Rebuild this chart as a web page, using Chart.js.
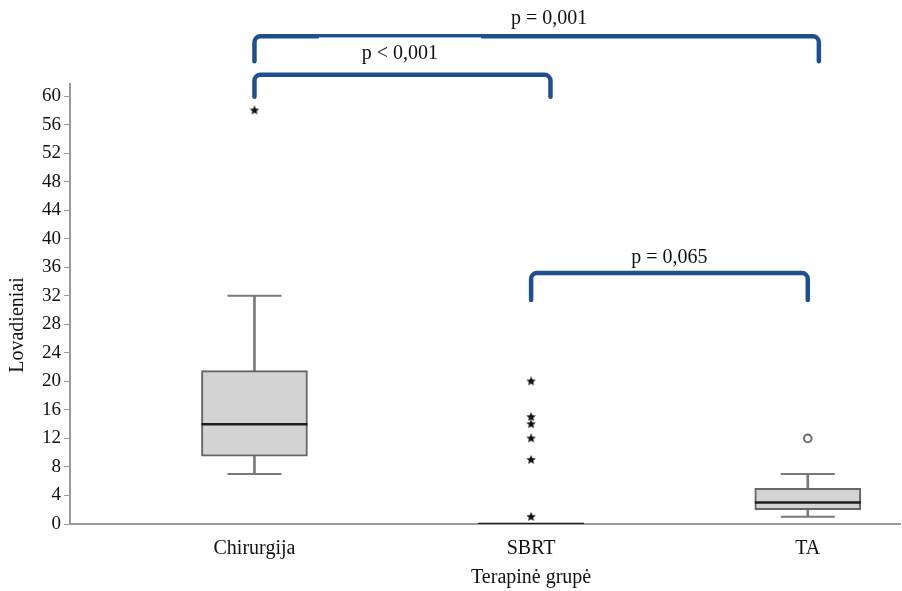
<!DOCTYPE html>
<html>
<head>
<meta charset="utf-8">
<script src="https://cdn.jsdelivr.net/npm/chart.js@4/dist/chart.umd.min.js"></script>
<style>
  html, body { margin: 0; padding: 0; background: #ffffff; }
  #wrap { width: 902px; height: 591px; position: relative; }
</style>
</head>
<body>
<div id="wrap"><canvas id="c" width="902" height="591"></canvas></div>
<script>
// ---- Data ----
const categories = ['Chirurgija', 'SBRT', 'TA'];
const categoryPos = [1, 2, 3];
const whiskerMin = [7, 0, 1];
const q1 = [9.5, 0, 2];
const medians = [14, 0, 3];
const q3 = [21.5, 0, 5];
const whiskerMax = [32, 0, 7];
// extreme outliers (stars) and mild outliers (circles): [categoryIndex, value]
const starOutliers = [[0, 58], [1, 20], [1, 15], [1, 14], [1, 12], [1, 9], [1, 1]];
const circleOutliers = [[2, 12]];
const yTicks = [0, 4, 8, 12, 16, 20, 24, 28, 32, 36, 40, 44, 48, 52, 56, 60];
const xTitle = 'Terapinė grupė';
const yTitle = 'Lovadieniai';
// significance brackets: from x, to x, line level, leg bottom, label, label level, label x
const bracketFrom = [1.0, 1.0, 2.0];
const bracketTo = [3.04, 2.07, 3.0];
const bracketTop = [68.4, 63.0, 35.2];
const bracketLegEnd = [64.9, 59.9, 31.4];
const bracketLabels = ['p = 0,001', 'p < 0,001', 'p = 0,065'];
const labelLevel = [70.9, 65.9, 37.4];
const labelX = [2.065, 1.526, 2.5];

const SERIF = "'Liberation Serif', 'Times New Roman', serif";
const AXIS_GRAY = '#9a9a9a';

// filled five-point star marker
function makeStar(size, color) {
  const c = document.createElement('canvas');
  c.width = size; c.height = size;
  const g = c.getContext('2d');
  const cx = size / 2, cy = size / 2, ro = size / 2, ri = ro * 0.45;
  g.beginPath();
  for (let i = 0; i < 10; i++) {
    const r = i % 2 === 0 ? ro : ri;
    const a = -Math.PI / 2 + i * Math.PI / 5;
    const x = cx + r * Math.cos(a), y = cy + r * Math.sin(a);
    if (i === 0) g.moveTo(x, y); else g.lineTo(x, y);
  }
  g.closePath();
  g.fillStyle = color;
  g.fill();
  return c;
}
const starImg = makeStar(10, '#111111');

const lowerWhiskers = categoryPos.map((x, i) => ({ x, y: [whiskerMin[i], q1[i]] })).filter(d => d.y[1] > d.y[0]);
const upperWhiskers = categoryPos.map((x, i) => ({ x, y: [q3[i], whiskerMax[i]] })).filter(d => d.y[1] > d.y[0]);
const capPoints = [];
categoryPos.forEach((x, i) => {
  if (q1[i] > whiskerMin[i]) capPoints.push({ x, y: whiskerMin[i] });
  if (whiskerMax[i] > q3[i]) capPoints.push({ x, y: whiskerMax[i] });
});

const annotationPlugin = {
  id: 'annotations',
  afterDraw(chart) {
    const { ctx, scales: { x, y } } = chart;
    ctx.save();
    ctx.font = '20px ' + SERIF;
    for (let i = 0; i < bracketFrom.length; i++) {
      const x1 = x.getPixelForValue(bracketFrom[i]);
      const x2 = x.getPixelForValue(bracketTo[i]);
      const yt = y.getPixelForValue(bracketTop[i]);
      const yb = y.getPixelForValue(bracketLegEnd[i]);
      ctx.beginPath();
      ctx.moveTo(x1, yb);
      ctx.arcTo(x1, yt, x2, yt, 6);
      ctx.arcTo(x2, yt, x2, yb, 6);
      ctx.lineTo(x2, yb);
      ctx.strokeStyle = '#1f4f8f';
      ctx.lineWidth = 4.5;
      ctx.lineCap = 'round';
      ctx.lineJoin = 'round';
      ctx.stroke();
    }
    // white label backing of the middle label, slightly overlapping the upper bracket
    {
      const i = 1;
      const w = ctx.measureText(bracketLabels[i]).width + 86;
      const cx = x.getPixelForValue(labelX[i]);
      const top = y.getPixelForValue(bracketTop[0]) + 1.2;
      const bottom = y.getPixelForValue(bracketTop[1]) - 3;
      ctx.fillStyle = '#ffffff';
      ctx.fillRect(cx - w / 2, top, w, bottom - top);
    }
    ctx.fillStyle = '#111111';
    ctx.textAlign = 'center';
    ctx.textBaseline = 'middle';
    for (let i = 0; i < bracketLabels.length; i++) {
      ctx.fillText(bracketLabels[i], x.getPixelForValue(labelX[i]), y.getPixelForValue(labelLevel[i]));
    }
    // axis titles
    ctx.fillText(xTitle, x.getPixelForValue(categoryPos[1]), 578);
    ctx.translate(17.5, 325);
    ctx.rotate(-Math.PI / 2);
    ctx.fillText(yTitle, 0, 0);
    ctx.restore();
  }
};

new Chart(document.getElementById('c'), {
  type: 'bar',
  data: {
    datasets: [
      {
        type: 'bar', label: 'lower whisker', data: lowerWhiskers,
        backgroundColor: '#7a7a7a', borderWidth: 0, barThickness: 2, grouped: false, order: 6
      },
      {
        type: 'bar', label: 'upper whisker', data: upperWhiskers,
        backgroundColor: '#7a7a7a', borderWidth: 0, barThickness: 2, grouped: false, order: 6
      },
      {
        type: 'scatter', label: 'caps', data: capPoints,
        pointStyle: 'line', pointRadius: 27, borderColor: '#7a7a7a', borderWidth: 2, order: 5
      },
      {
        type: 'bar', label: 'box',
        data: categoryPos.map((x, i) => ({ x, y: [q1[i], q3[i]] })),
        backgroundColor: '#d3d3d3', borderColor: '#666666', borderWidth: 2,
        borderSkipped: false, barThickness: 106, grouped: false, order: 4
      },
      {
        type: 'scatter', label: 'median',
        data: categoryPos.map((x, i) => ({ x, y: medians[i] })),
        pointStyle: 'line', pointRadius: 53, borderColor: '#1e1e1e', borderWidth: 2.5, order: 3
      },
      {
        type: 'scatter', label: 'extreme',
        data: starOutliers.map(([ci, v]) => ({ x: categoryPos[ci], y: v })),
        pointStyle: starImg, pointRadius: 5, order: 1
      },
      {
        type: 'scatter', label: 'outlier',
        data: circleOutliers.map(([ci, v]) => ({ x: categoryPos[ci], y: v })),
        pointStyle: 'circle', pointRadius: 3.8, borderColor: '#6b6b6b', borderWidth: 2,
        backgroundColor: '#ffffff', order: 1
      }
    ]
  },
  options: {
    responsive: false,
    animation: false,
    events: [],
    layout: { autoPadding: false, padding: { top: 84, left: 0, right: 2, bottom: 0 } },
    plugins: { legend: { display: false }, tooltip: { enabled: false } },
    scales: {
      x: {
        type: 'linear',
        min: 0.3333, max: 3.3333,
        offset: false,
        afterBuildTicks: s => { s.ticks = categoryPos.map(v => ({ value: v })); },
        afterFit: s => { s.height = 67; s.paddingLeft = 0; s.paddingRight = 0; },
        ticks: {
          callback: v => categories[categoryPos.indexOf(v)] ?? '',
          font: { family: SERIF, size: 20 }, color: '#111111', padding: 13, maxRotation: 0
        },
        grid: { display: true, drawOnChartArea: false, drawTicks: false },
        border: { display: true, color: AXIS_GRAY, width: 2 },
        title: { display: false }
      },
      y: {
        min: 0, max: 61.7,
        afterBuildTicks: s => { s.ticks = yTicks.map(v => ({ value: v })); },
        afterFit: s => { s.width = 70; s.paddingTop = 0; s.paddingBottom = 0; },
        ticks: { font: { family: SERIF, size: 19 }, color: '#111111', padding: 3 },
        grid: { display: true, drawOnChartArea: false, drawTicks: true, tickLength: 6, color: AXIS_GRAY, lineWidth: 1 },
        border: { display: true, color: AXIS_GRAY, width: 2 },
        title: { display: false }
      }
    }
  },
  plugins: [annotationPlugin]
});
</script>
</body>
</html>
